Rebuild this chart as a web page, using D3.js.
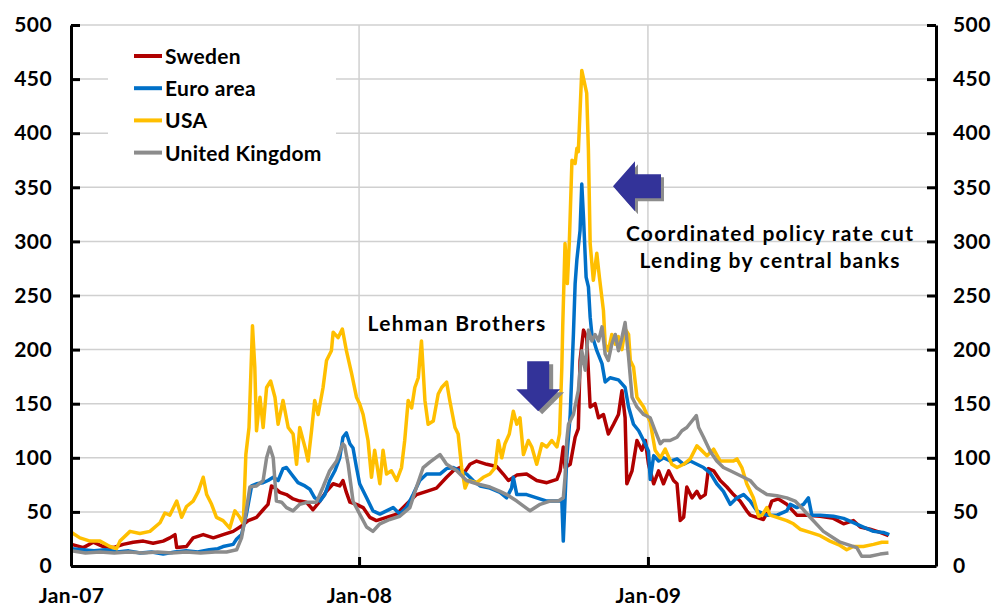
<!DOCTYPE html>
<html>
<head>
<meta charset="utf-8">
<script src="https://cdn.jsdelivr.net/npm/d3@7"></script>
<style>
  body { margin: 0; background: #fff; }
  svg { display: block; font-family: Lato, "Open Sans", sans-serif; font-weight: 700; }
  .axis text { font-size: 21px; fill: #000; font-family: Lato, sans-serif; font-weight: 700; letter-spacing: 0.4px; }
  .axis path, .axis line { stroke: #000; stroke-width: 3; }
  .grid line { stroke: #d0d0d0; stroke-width: 1.5; }
  .series { fill: none; stroke-width: 3.5; stroke-linejoin: round; }
  .note { font-size: 21px; letter-spacing: 1.3px; }
</style>
</head>
<body>
<svg width="997" height="607"></svg>
<script>
// values: [decimal year, basis points]
var sweden = [
  [2007.002, 20], [2007.043, 17], [2007.077, 22], [2007.112, 18], [2007.147, 17], [2007.181, 20],
  [2007.216, 22], [2007.251, 23], [2007.285, 21], [2007.320, 23], [2007.343, 26], [2007.361, 29],
  [2007.367, 17], [2007.401, 18], [2007.424, 26], [2007.459, 29], [2007.494, 26], [2007.528, 29],
  [2007.563, 32], [2007.592, 37], [2007.615, 42], [2007.644, 45], [2007.667, 52], [2007.684, 57],
  [2007.696, 74], [2007.708, 72], [2007.725, 68], [2007.748, 66], [2007.771, 62], [2007.794, 60],
  [2007.817, 59], [2007.840, 52], [2007.864, 60], [2007.887, 69], [2007.910, 76], [2007.933, 74],
  [2007.944, 79], [2007.956, 68], [2007.968, 59], [2007.991, 57], [2008.014, 54], [2008.037, 45],
  [2008.060, 42], [2008.095, 45], [2008.130, 48], [2008.164, 57], [2008.199, 66], [2008.234, 69],
  [2008.268, 72], [2008.303, 82], [2008.326, 88], [2008.349, 91], [2008.361, 85], [2008.384, 94],
  [2008.407, 97], [2008.442, 94], [2008.476, 92], [2008.499, 85], [2008.517, 79], [2008.546, 84],
  [2008.580, 85], [2008.615, 79], [2008.650, 77], [2008.685, 80], [2008.696, 88], [2008.707, 110],
  [2008.713, 91], [2008.731, 94], [2008.748, 119], [2008.759, 127], [2008.765, 190], [2008.777, 218],
  [2008.788, 211], [2008.800, 147], [2008.817, 150], [2008.829, 137], [2008.846, 140], [2008.863, 122],
  [2008.881, 131], [2008.898, 140], [2008.910, 162], [2008.921, 137], [2008.927, 76], [2008.945, 88],
  [2008.962, 116], [2008.979, 107], [2008.991, 116], [2009.002, 94], [2009.020, 76], [2009.037, 88],
  [2009.054, 76], [2009.072, 88], [2009.089, 79], [2009.101, 76], [2009.112, 42], [2009.124, 45],
  [2009.135, 73], [2009.153, 63], [2009.170, 69], [2009.182, 63], [2009.199, 66], [2009.210, 90],
  [2009.228, 88], [2009.251, 79], [2009.274, 73], [2009.297, 66], [2009.320, 60], [2009.343, 51],
  [2009.355, 47], [2009.378, 45], [2009.401, 43], [2009.418, 51], [2009.430, 60], [2009.453, 62],
  [2009.482, 57], [2009.517, 47], [2009.552, 47], [2009.598, 46], [2009.644, 44], [2009.679, 39],
  [2009.713, 42], [2009.737, 36], [2009.771, 34], [2009.806, 31], [2009.835, 28]
];

var euroArea = [
  [2007.002, 16], [2007.040, 15], [2007.080, 14], [2007.120, 15], [2007.160, 13], [2007.200, 14],
  [2007.240, 12], [2007.280, 13], [2007.320, 11], [2007.360, 13], [2007.400, 14], [2007.440, 13],
  [2007.480, 15], [2007.510, 16], [2007.528, 18], [2007.563, 20], [2007.575, 25], [2007.592, 29],
  [2007.609, 48], [2007.627, 74], [2007.644, 76], [2007.667, 77], [2007.684, 79], [2007.702, 82],
  [2007.719, 79], [2007.736, 90], [2007.748, 91], [2007.765, 85], [2007.788, 77], [2007.812, 74],
  [2007.829, 71], [2007.846, 63], [2007.864, 60], [2007.881, 66], [2007.898, 79], [2007.916, 88],
  [2007.933, 100], [2007.944, 119], [2007.956, 123], [2007.968, 113], [2007.979, 109], [2007.991, 91],
  [2008.002, 76], [2008.026, 63], [2008.048, 51], [2008.072, 48], [2008.095, 51], [2008.118, 54],
  [2008.141, 48], [2008.164, 54], [2008.187, 66], [2008.210, 79], [2008.234, 85], [2008.257, 85],
  [2008.280, 85], [2008.303, 90], [2008.326, 91], [2008.349, 88], [2008.372, 85], [2008.395, 79],
  [2008.419, 74], [2008.453, 72], [2008.488, 68], [2008.511, 63], [2008.528, 72], [2008.534, 82],
  [2008.546, 66], [2008.580, 66], [2008.615, 63], [2008.650, 60], [2008.685, 60], [2008.702, 60],
  [2008.707, 23], [2008.719, 100], [2008.731, 140], [2008.742, 214], [2008.748, 261], [2008.754, 283],
  [2008.765, 310], [2008.771, 353], [2008.777, 322], [2008.786, 267], [2008.794, 258], [2008.800, 230],
  [2008.806, 214], [2008.823, 199], [2008.841, 187], [2008.852, 170], [2008.869, 174], [2008.898, 172],
  [2008.921, 165], [2008.933, 147], [2008.950, 131], [2008.968, 125], [2008.985, 116], [2009.002, 106],
  [2009.008, 80], [2009.020, 102], [2009.037, 97], [2009.054, 100], [2009.077, 97], [2009.101, 99],
  [2009.124, 94], [2009.147, 97], [2009.170, 94], [2009.193, 91], [2009.216, 86], [2009.239, 76],
  [2009.262, 69], [2009.286, 57], [2009.309, 63], [2009.332, 66], [2009.355, 60], [2009.378, 51],
  [2009.413, 47], [2009.448, 47], [2009.482, 51], [2009.494, 57], [2009.517, 54], [2009.540, 57],
  [2009.557, 63], [2009.569, 47], [2009.598, 47], [2009.644, 46], [2009.679, 44], [2009.713, 40],
  [2009.748, 36], [2009.783, 32], [2009.817, 31], [2009.838, 29]
];

var usa = [
  [2007.002, 31], [2007.031, 26], [2007.066, 23], [2007.101, 23], [2007.135, 18], [2007.158, 16],
  [2007.170, 23], [2007.205, 32], [2007.239, 30], [2007.274, 32], [2007.309, 40], [2007.326, 49],
  [2007.343, 47], [2007.367, 60], [2007.384, 45], [2007.401, 55], [2007.424, 60], [2007.442, 69],
  [2007.459, 82], [2007.471, 66], [2007.488, 57], [2007.505, 45], [2007.528, 42], [2007.551, 35],
  [2007.569, 51], [2007.586, 45], [2007.598, 39], [2007.607, 103], [2007.618, 128], [2007.630, 222],
  [2007.638, 184], [2007.644, 125], [2007.656, 156], [2007.667, 128], [2007.679, 165], [2007.693, 171],
  [2007.708, 156], [2007.719, 131], [2007.736, 153], [2007.754, 128], [2007.771, 122], [2007.783, 94],
  [2007.794, 128], [2007.812, 110], [2007.823, 97], [2007.835, 125], [2007.846, 153], [2007.858, 140],
  [2007.875, 165], [2007.887, 190], [2007.904, 199], [2007.910, 216], [2007.927, 211], [2007.942, 219],
  [2007.956, 199], [2007.974, 178], [2007.991, 156], [2008.002, 150], [2008.014, 140], [2008.031, 116],
  [2008.043, 82], [2008.054, 107], [2008.072, 76], [2008.083, 107], [2008.095, 85], [2008.112, 88],
  [2008.130, 79], [2008.147, 91], [2008.158, 116], [2008.170, 153], [2008.182, 146], [2008.193, 165],
  [2008.205, 174], [2008.216, 208], [2008.228, 153], [2008.239, 131], [2008.257, 134], [2008.274, 159],
  [2008.286, 165], [2008.303, 170], [2008.314, 153], [2008.332, 128], [2008.343, 122], [2008.355, 91],
  [2008.367, 72], [2008.378, 79], [2008.407, 77], [2008.430, 82], [2008.453, 85], [2008.471, 91],
  [2008.482, 116], [2008.494, 100], [2008.505, 113], [2008.520, 122], [2008.534, 143], [2008.546, 131],
  [2008.557, 137], [2008.569, 103], [2008.586, 116], [2008.598, 110], [2008.615, 94], [2008.633, 113],
  [2008.650, 110], [2008.667, 116], [2008.685, 110], [2008.694, 122], [2008.702, 184], [2008.705, 221],
  [2008.713, 298], [2008.721, 261], [2008.728, 300], [2008.737, 375], [2008.748, 372], [2008.754, 386],
  [2008.759, 383], [2008.771, 458], [2008.788, 437], [2008.794, 384], [2008.800, 298], [2008.811, 264],
  [2008.823, 289], [2008.832, 267], [2008.846, 236], [2008.852, 205], [2008.863, 199], [2008.875, 214],
  [2008.887, 205], [2008.898, 212], [2008.910, 200], [2008.921, 219], [2008.933, 214], [2008.939, 190],
  [2008.950, 184], [2008.962, 156], [2008.985, 147], [2009.008, 133], [2009.025, 107], [2009.043, 100],
  [2009.060, 108], [2009.083, 94], [2009.101, 91], [2009.124, 94], [2009.147, 99], [2009.170, 111],
  [2009.182, 108], [2009.205, 102], [2009.228, 108], [2009.251, 97], [2009.274, 97], [2009.297, 97],
  [2009.309, 99], [2009.326, 91], [2009.343, 76], [2009.366, 63], [2009.384, 46], [2009.396, 47],
  [2009.413, 54], [2009.424, 47], [2009.448, 45], [2009.482, 42], [2009.505, 39], [2009.528, 34],
  [2009.563, 31], [2009.598, 28], [2009.632, 23], [2009.667, 19], [2009.690, 15], [2009.713, 18],
  [2009.748, 18], [2009.783, 20], [2009.812, 22], [2009.835, 22]
];

var unitedKingdom = [
  [2007.002, 14], [2007.050, 12], [2007.100, 13], [2007.150, 12], [2007.200, 13], [2007.250, 12],
  [2007.300, 13], [2007.350, 12], [2007.400, 13], [2007.450, 12], [2007.500, 13], [2007.540, 13],
  [2007.575, 15], [2007.592, 26], [2007.603, 42], [2007.621, 73], [2007.644, 74], [2007.667, 79],
  [2007.679, 100], [2007.690, 110], [2007.702, 100], [2007.713, 60], [2007.731, 59], [2007.748, 54],
  [2007.771, 51], [2007.794, 57], [2007.823, 59], [2007.852, 59], [2007.875, 73], [2007.898, 88],
  [2007.922, 97], [2007.939, 110], [2007.944, 113], [2007.950, 111], [2007.962, 94], [2007.979, 60],
  [2008.002, 48], [2008.026, 36], [2008.048, 32], [2008.072, 39], [2008.106, 43], [2008.141, 46],
  [2008.176, 54], [2008.199, 73], [2008.222, 91], [2008.245, 96], [2008.280, 103], [2008.303, 94],
  [2008.338, 88], [2008.372, 79], [2008.407, 76], [2008.453, 73], [2008.488, 69], [2008.511, 66],
  [2008.546, 60], [2008.592, 51], [2008.627, 57], [2008.661, 60], [2008.690, 60], [2008.707, 63],
  [2008.713, 82], [2008.719, 116], [2008.725, 131], [2008.742, 140], [2008.759, 162], [2008.771, 199],
  [2008.783, 181], [2008.794, 218], [2008.806, 208], [2008.817, 214], [2008.829, 208], [2008.841, 221],
  [2008.852, 196], [2008.863, 190], [2008.875, 205], [2008.887, 214], [2008.898, 199], [2008.910, 211],
  [2008.921, 225], [2008.933, 193], [2008.945, 156], [2008.962, 147], [2008.985, 140], [2009.008, 137],
  [2009.025, 125], [2009.043, 113], [2009.054, 116], [2009.077, 116], [2009.101, 119], [2009.118, 125],
  [2009.135, 128], [2009.153, 134], [2009.168, 139], [2009.176, 128], [2009.193, 119], [2009.216, 106],
  [2009.239, 97], [2009.262, 91], [2009.286, 88], [2009.309, 85], [2009.332, 82], [2009.355, 79],
  [2009.378, 72], [2009.413, 66], [2009.448, 65], [2009.482, 63], [2009.511, 60], [2009.540, 52],
  [2009.563, 45], [2009.609, 32], [2009.667, 22], [2009.725, 17], [2009.742, 9], [2009.771, 9],
  [2009.806, 11], [2009.835, 12]
];

var seriesNames = ['Sweden', 'Euro area', 'USA', 'United Kingdom'];
var seriesColors = ['#b00000', '#0070c8', '#ffbf00', '#8c8c8c'];
var yTicks = [0, 50, 100, 150, 200, 250, 300, 350, 400, 450, 500];
var xTickLabels = ['Jan-07', 'Jan-08', 'Jan-09'];

// decimal year -> Date
function toDate(t) {
    var yr = Math.floor(t);
    var a = new Date(yr, 0, 1), b = new Date(yr + 1, 0, 1);
    return new Date(+a + (t - yr) * (b - a));
}

var svg = d3.select('svg');
var plot = {l: 71, r: 936, t: 25, b: 566};

var xScale = d3.scaleTime()
    .domain([new Date(2007, 0, 1), new Date(2010, 0, 1)])
    .range([plot.l, plot.r]);
var yScale = d3.scaleLinear().domain([0, 500]).range([plot.b, plot.t]);

// grid
var grid = svg.append('g').attr('class', 'grid');
grid.selectAll('.hg').data(yTicks.slice(1)).enter().append('line')
    .attr('x1', plot.l).attr('x2', plot.r)
    .attr('y1', d => yScale(d)).attr('y2', d => yScale(d));
grid.selectAll('.vg').data([new Date(2008, 0, 1), new Date(2009, 0, 1)]).enter().append('line')
    .attr('x1', d => xScale(d)).attr('x2', d => xScale(d))
    .attr('y1', plot.t).attr('y2', plot.b);

// legend background hides the grid behind it
svg.append('rect').attr('x', 108).attr('y', 38).attr('width', 228).attr('height', 134).attr('fill', '#fff');

// series lines
var line = d3.line().x(d => xScale(toDate(d[0]))).y(d => yScale(d[1]));
[sweden, euroArea, usa, unitedKingdom].forEach(function(s, i) {
    svg.append('path').attr('class', 'series')
        .attr('d', line(s))
        .style('stroke', seriesColors[i]);
});

// axes
var xTickDates = xTickLabels.map(function(s, i) { return new Date(2007 + i, 0, 1); });
svg.append('g').attr('class', 'axis')
    .attr('transform', 'translate(0,' + plot.b + ')')
    .call(d3.axisBottom(xScale).tickValues(xTickDates)
        .tickFormat((d, i) => xTickLabels[i]).tickSizeInner(-9).tickSizeOuter(0).tickPadding(22));
svg.append('g').attr('class', 'axis')
    .attr('transform', 'translate(' + plot.l + ',0)')
    .call(d3.axisLeft(yScale).tickValues(yTicks).tickSizeInner(-9).tickSizeOuter(0).tickPadding(19));
svg.append('g').attr('class', 'axis')
    .attr('transform', 'translate(' + plot.r + ',0)')
    .call(d3.axisRight(yScale).tickValues(yTicks).tickSizeInner(-9).tickSizeOuter(0).tickPadding(17));

// legend
var legend = svg.append('g').attr('transform', 'translate(134,56)');
seriesNames.forEach(function(name, i) {
    var g = legend.append('g').attr('transform', 'translate(0,' + (i * 32.2) + ')');
    g.append('line').attr('x1', 0).attr('x2', 28).attr('y1', 0).attr('y2', 0)
        .attr('stroke', seriesColors[i]).attr('stroke-width', 4);
    g.append('text').attr('x', 31).attr('y', 8).style('font-size', '21px')
        .style('letter-spacing', '0.3px').text(name);
});

// annotations
function blockArrow(g, pts, shadow) {
    var p = pts.map(q => q.join(',')).join(' ');
    g.append('polygon').attr('points', p).attr('fill', '#8c8c8c')
        .attr('transform', 'translate(' + shadow[0] + ',' + shadow[1] + ')');
    g.append('polygon').attr('points', p).attr('fill', '#333399');
}

// Lehman: arrow pointing down
var lx = xScale(toDate(2008.620)), ly = yScale(143);
blockArrow(svg.append('g').attr('transform', 'translate(' + lx + ',' + ly + ')'),
    [[-11, -50], [11, -50], [11, -22], [22, -22], [0, 0], [-22, -22], [-11, -22]], [4, 3]);
svg.append('text').attr('class', 'note').attr('x', xScale(toDate(2008.339))).attr('y', yScale(217))
    .attr('text-anchor', 'middle').text('Lehman Brothers');

// coordinated cut: arrow pointing left
var cx = xScale(toDate(2008.879)), cy = yScale(351);
blockArrow(svg.append('g').attr('transform', 'translate(' + cx + ',' + cy + ')'),
    [[0, 0], [22, -25], [22, -12], [48, -12], [48, 12], [22, 12], [22, 25]], [3, 3]);
var note = svg.append('text').attr('class', 'note').attr('text-anchor', 'middle');
note.append('tspan').attr('x', xScale(toDate(2009.424))).attr('y', yScale(300)).text('Coordinated policy rate cut');
note.append('tspan').attr('x', xScale(toDate(2009.424))).attr('y', yScale(300) + 27).text('Lending by central banks');
</script>
</body>
</html>
